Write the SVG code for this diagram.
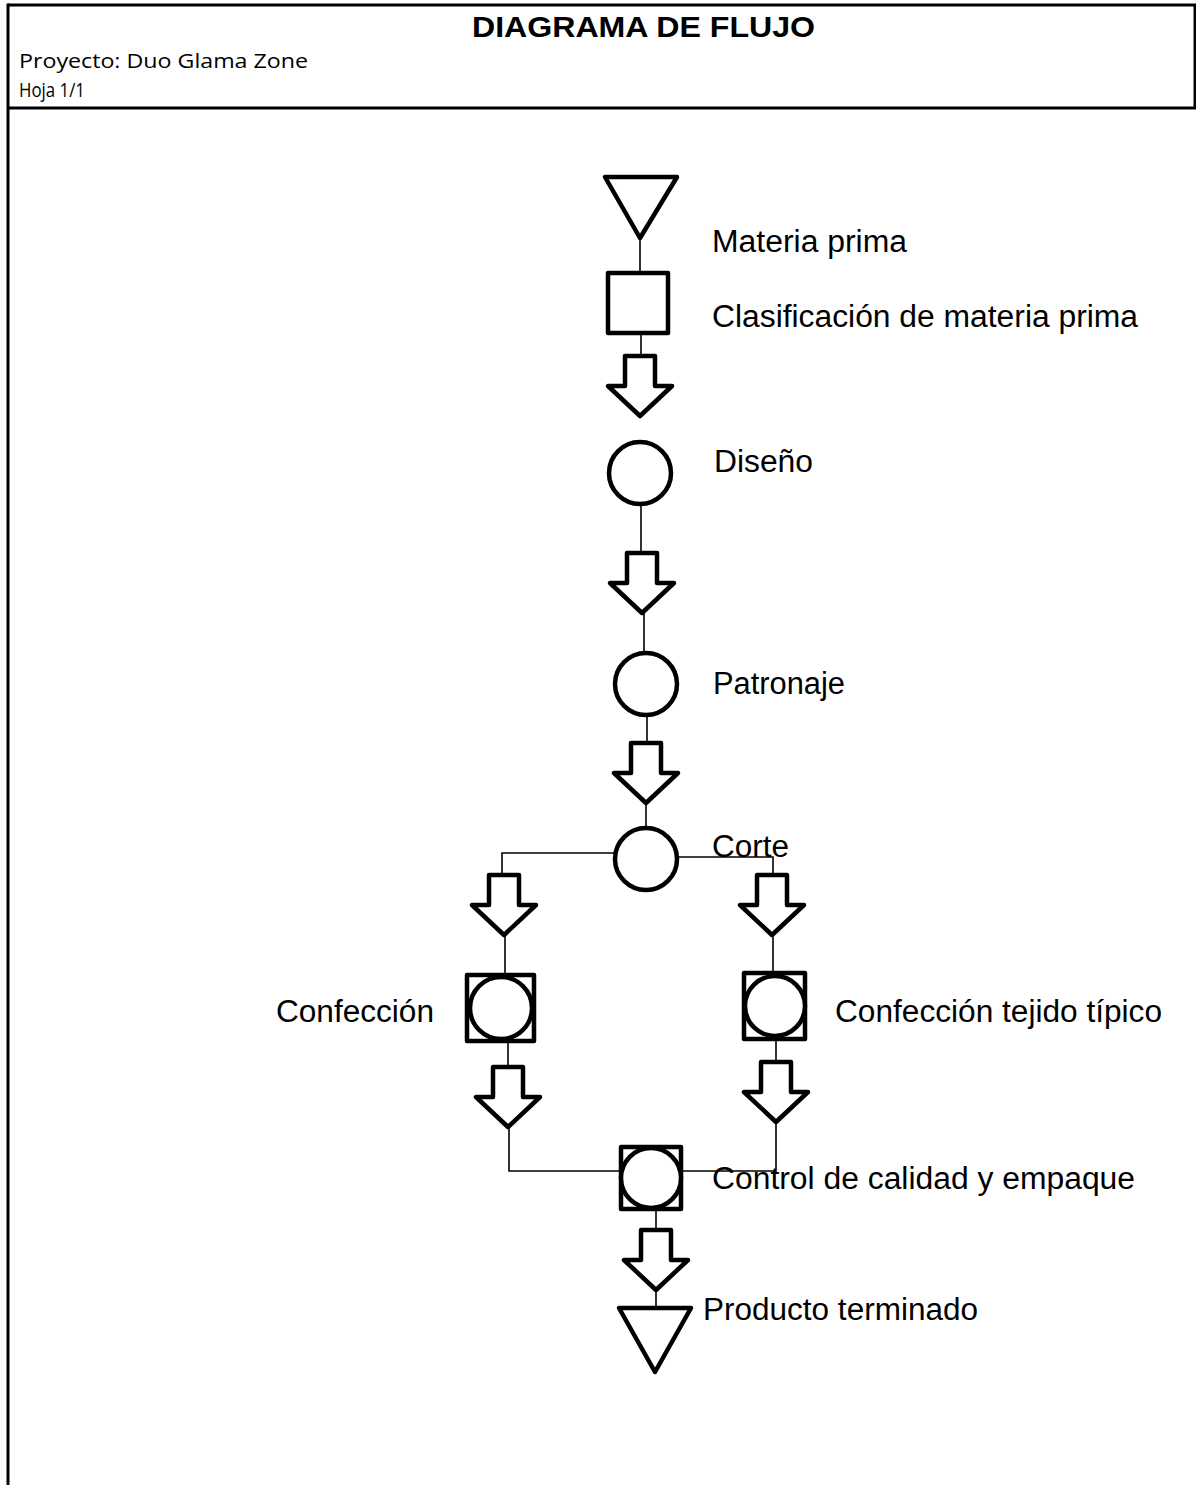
<svg xmlns="http://www.w3.org/2000/svg" width="1196" height="1485" viewBox="0 0 1196 1485">
  <style>
    .frame { stroke: #000; stroke-width: 3; fill: none; }
    .sym { stroke: #000; stroke-width: 4.5; fill: #fff; stroke-linejoin: round; }
    .wire { stroke: #000; stroke-width: 1.6; fill: none; }
    .lbl { font-family: "Liberation Sans", Arial, sans-serif; font-size: 31px; fill: #000; }
    .hdr { font-family: "Open Sans", "Liberation Sans", sans-serif; font-size: 20px; fill: #000; }
    .title { font-family: "Liberation Sans", Arial, sans-serif; font-size: 30px; font-weight: bold; fill: #000; }
  </style>
  <defs>
    <!-- block arrow pointing down, origin at tip -->
    <path id="blockArrow" d="M -15 -60 L 15 -60 L 15 -30 L 32 -30 L 0 0 L -32 -30 L -15 -30 Z"/>
  </defs>
  <rect width="1196" height="1485" fill="#fff"/>

  <!-- page frame and title block -->
  <g id="frame">
    <line class="frame" x1="8" y1="5" x2="1196" y2="5"/>
    <line class="frame" x1="8" y1="3.5" x2="8" y2="1485"/>
    <line class="frame" x1="1195" y1="5" x2="1195" y2="108"/>
    <line class="frame" x1="8" y1="108" x2="1196" y2="108"/>
    <text class="title" x="472" y="37" textLength="343" lengthAdjust="spacingAndGlyphs">DIAGRAMA DE FLUJO</text>
    <text class="hdr" x="19" y="68" textLength="289" lengthAdjust="spacingAndGlyphs">Proyecto: Duo Glama Zone</text>
    <text class="hdr" x="19" y="97" textLength="66" lengthAdjust="spacingAndGlyphs">Hoja 1/1</text>
  </g>

  <!-- connectors -->
  <g id="connectors">
    <line class="wire" x1="640" y1="238" x2="640" y2="272"/>
    <line class="wire" x1="641" y1="333" x2="641" y2="357"/>
    <line class="wire" x1="641" y1="505" x2="641" y2="553"/>
    <line class="wire" x1="644" y1="613" x2="644" y2="652"/>
    <line class="wire" x1="647" y1="716" x2="647" y2="745"/>
    <line class="wire" x1="646" y1="803" x2="646" y2="828"/>
    <polyline class="wire" points="615,853 502,853 502,875"/>
    <polyline class="wire" points="677,857 773,857 773,875"/>
    <line class="wire" x1="505" y1="935" x2="505" y2="974"/>
    <line class="wire" x1="773" y1="935" x2="773" y2="972"/>
    <line class="wire" x1="508" y1="1041" x2="508" y2="1068"/>
    <line class="wire" x1="776" y1="1039" x2="776" y2="1062"/>
    <polyline class="wire" points="509,1127 509,1171 621,1171"/>
    <polyline class="wire" points="776,1122 776,1171 681,1171"/>
    <line class="wire" x1="656" y1="1209" x2="656" y2="1232"/>
    <line class="wire" x1="656" y1="1290" x2="656" y2="1308"/>
  </g>

  <g id="materia-prima">
    <polygon class="sym" points="605,177 677,177 640,238"/>
    <text class="lbl" x="712" y="252" textLength="195" lengthAdjust="spacingAndGlyphs">Materia prima</text>
  </g>

  <g id="clasificacion">
    <rect class="sym" x="608" y="273" width="60" height="60"/>
    <text class="lbl" x="712" y="327" textLength="426" lengthAdjust="spacingAndGlyphs">Clasificación de materia prima</text>
  </g>

  <g id="arrow-1"><use href="#blockArrow" class="sym" transform="translate(640,416)"/></g>

  <g id="diseno">
    <circle class="sym" cx="640" cy="473" r="31"/>
    <text class="lbl" x="714" y="472" font-size="29" fill="#333" textLength="99" lengthAdjust="spacingAndGlyphs">Diseño</text>
  </g>

  <g id="arrow-2"><use href="#blockArrow" class="sym" transform="translate(642,613)"/></g>

  <g id="patronaje">
    <circle class="sym" cx="646" cy="684" r="31"/>
    <text class="lbl" x="713" y="694" textLength="132" lengthAdjust="spacingAndGlyphs">Patronaje</text>
  </g>

  <g id="arrow-3"><use href="#blockArrow" class="sym" transform="translate(646,803)"/></g>

  <g id="corte">
    <circle class="sym" cx="646" cy="859" r="31"/>
    <text class="lbl" x="712" y="857" textLength="77" lengthAdjust="spacingAndGlyphs">Corte</text>
  </g>

  <g id="arrow-4"><use href="#blockArrow" class="sym" transform="translate(504,935)"/></g>
  <g id="arrow-5"><use href="#blockArrow" class="sym" transform="translate(772,935)"/></g>

  <g id="confeccion">
    <rect class="sym" x="467" y="975" width="67" height="66"/>
    <circle class="sym" cx="501" cy="1008" r="31"/>
    <text class="lbl" x="276" y="1022" textLength="158" lengthAdjust="spacingAndGlyphs">Confección</text>
  </g>

  <g id="confeccion-tipico">
    <rect class="sym" x="744" y="973" width="61" height="66"/>
    <circle class="sym" cx="775" cy="1006" r="30"/>
    <text class="lbl" x="835" y="1022" textLength="327" lengthAdjust="spacingAndGlyphs">Confección tejido típico</text>
  </g>

  <g id="arrow-6"><use href="#blockArrow" class="sym" transform="translate(508,1127)"/></g>
  <g id="arrow-7"><use href="#blockArrow" class="sym" transform="translate(776,1122)"/></g>

  <g id="control">
    <rect class="sym" x="621" y="1147" width="60" height="62"/>
    <circle class="sym" cx="651" cy="1178" r="30"/>
    <text class="lbl" x="712" y="1189" textLength="423" lengthAdjust="spacingAndGlyphs">Control de calidad y empaque</text>
  </g>

  <g id="arrow-8"><use href="#blockArrow" class="sym" transform="translate(656,1290)"/></g>

  <g id="producto-terminado">
    <polygon class="sym" points="619,1308 691,1308 655,1372"/>
    <text class="lbl" x="703" y="1320" textLength="275" lengthAdjust="spacingAndGlyphs">Producto terminado</text>
  </g>
</svg>
